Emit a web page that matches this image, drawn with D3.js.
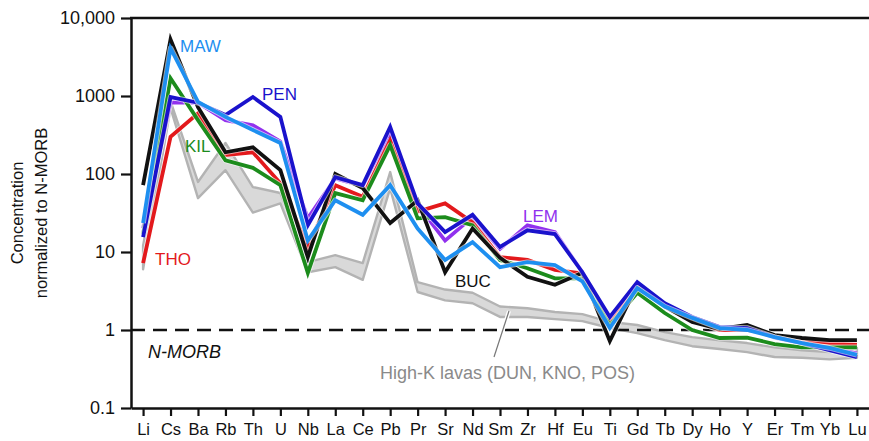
<!DOCTYPE html>
<html>
<head>
<meta charset="utf-8">
<script src="https://cdn.jsdelivr.net/npm/d3@7"></script>
<style>
  html, body { margin: 0; padding: 0; background: #fff; }
  svg { display: block; font-family: "Liberation Sans", Arial, Helvetica, sans-serif; }
</style>
</head>
<body>
<svg id="chart" width="869" height="441"></svg>
<script>
// Trace elements on the x axis, N-MORB normalized concentrations per locality
const elements = ["Li","Cs","Ba","Rb","Th","U","Nb","La","Ce","Pb","Pr","Sr","Nd","Sm","Zr","Hf","Eu","Ti","Gd","Tb","Dy","Ho","Y","Er","Tm","Yb","Lu"];

const LEM = [20, 830, 820, 490, 420, 260, 27, 88, 70, 335, 40, 14, 28, 11, 22, 18, 5.5, 1.35, 3.9, 2.1, 1.45, 1.05, 1.05, 0.8, 0.68, 0.58, 0.5];
const THO = [7.2, 300, 600, 175, 190, 76, 11.6, 72, 51, 270, 33, 42, 24, 8.6, 7.9, 5.9, 5.3, 1.2, 3.6, 2.0, 1.35, 1.0, 1.0, 0.85, 0.75, 0.68, 0.65];
const KIL = [17, 1690, 490, 150, 120, 72, 5.4, 57, 46, 235, 27, 28, 22, 7.9, 6.2, 4.6, 4.6, 1.15, 3.0, 1.65, 1.0, 0.79, 0.8, 0.66, 0.6, 0.6, 0.6];
const BUC = [72, 5300, 720, 190, 220, 112, 8.6, 100, 66, 23.5, 46, 5.5, 20, 8.4, 4.8, 3.8, 5.4, 0.72, 3.8, 2.0, 1.27, 1.03, 1.16, 0.86, 0.79, 0.74, 0.74];
const PEN = [15.5, 970, 820, 570, 970, 540, 22, 91, 72, 400, 42, 18, 30, 11.6, 19, 17, 5.5, 1.47, 4.1, 2.2, 1.47, 1.09, 1.06, 0.81, 0.68, 0.55, 0.45];
const MAW = [23.5, 4100, 840, 540, 366, 250, 14, 46, 30, 72, 20, 7.9, 13.4, 6.4, 7.4, 6.8, 4.2, 1.06, 3.45, 2.0, 1.43, 1.06, 1.0, 0.81, 0.68, 0.59, 0.48];

// High-K lavas (DUN, KNO, POS) envelope
const highKUpper = [12, 850, 79, 250, 68, 57, 7.4, 9.1, 7.2, 106, 4.1, 3.3, 3.0, 2.0, 1.9, 1.7, 1.6, 1.27, 1.16, 0.94, 0.81, 0.74, 0.68, 0.6, 0.55, 0.52, 0.59];
const highKLower = [6, 700, 49, 112, 32, 42, 5.5, 6.4, 4.4, 66, 3.07, 2.4, 2.2, 1.47, 1.47, 1.38, 1.3, 1.06, 0.91, 0.74, 0.62, 0.57, 0.52, 0.45, 0.44, 0.42, 0.44];

const yTicks = [0.1, 1, 10, 100, 1000, 10000];
const yTickLabels = ["0.1", "1", "10", "100", "1000", "10,000"];

const seriesDefs = [
  { name: "LEM", values: LEM, color: "#9131ee" },
  { name: "THO", values: THO, color: "#e3191c" },
  { name: "KIL", values: KIL, color: "#1c8c1c" },
  { name: "BUC", values: BUC, color: "#111111" },
  { name: "PEN", values: PEN, color: "#1a12cc" },
  { name: "MAW", values: MAW, color: "#1e8ff0" }
];

const svg = d3.select("#chart");
const plotLeft = 131, plotRight = 869, plotTop = 18, plotBottom = 408;

const x = d3.scalePoint().domain(elements).range([plotLeft, plotRight]).padding(0.44);
const y = d3.scaleLog().domain([0.1, 10000]).range([plotBottom, plotTop]);

// High-K envelope band
const band = d3.area()
  .x((d, i) => x(elements[i]))
  .y0(d => y(d[1]))
  .y1(d => y(d[0]));
const bandData = highKUpper.map((u, i) => [u, highKLower[i]]);
svg.append("path")
  .datum(bandData)
  .attr("d", band)
  .attr("fill", "#d9d9d9")
  .attr("stroke", "#b3b3b3")
  .attr("stroke-width", 2.4)
  .attr("stroke-linejoin", "round");

// N-MORB reference line at 1
svg.append("line")
  .attr("x1", plotLeft).attr("x2", plotRight)
  .attr("y1", y(1)).attr("y2", y(1))
  .attr("stroke", "#111").attr("stroke-width", 2.5)
  .attr("stroke-dasharray", "14,8");

// Leader for the High-K label
svg.append("line")
  .attr("x1", 509).attr("y1", 311).attr("x2", 494).attr("y2", 357)
  .attr("stroke", "#fff").attr("stroke-width", 4);
svg.append("line")
  .attr("x1", 509).attr("y1", 311).attr("x2", 494).attr("y2", 357)
  .attr("stroke", "#777").attr("stroke-width", 1.2);

// Locality patterns
const line = d3.line()
  .x((d, i) => x(elements[i]))
  .y(d => y(d));

seriesDefs.forEach(s => {
  svg.append("path")
    .datum(s.values)
    .attr("d", line)
    .attr("fill", "none")
    .attr("stroke", "#fff")
    .attr("stroke-width", 5.6)
    .attr("stroke-linejoin", "round")
    .attr("stroke-opacity", 0.6);
  svg.append("path")
    .datum(s.values)
    .attr("d", line)
    .attr("fill", "none")
    .attr("stroke", s.color)
    .attr("stroke-width", 3.8)
    .attr("stroke-linejoin", "miter");
});

// Axes
const yAxis = d3.axisLeft(y)
  .tickValues(yTicks)
  .tickFormat((d, i) => yTickLabels[i])
  .tickSize(10)
  .tickSizeOuter(0)
  .tickPadding(6);
const gy = svg.append("g").attr("transform", `translate(${plotLeft},0)`).call(yAxis);
gy.select(".domain").attr("stroke", "#111").attr("stroke-width", 2.5);
gy.selectAll(".tick line").attr("stroke", "#111").attr("stroke-width", 2.2);
gy.selectAll(".tick text").attr("font-size", 18).attr("fill", "#111")
  .attr("font-family", "'Liberation Sans', Arial, sans-serif");

const xAxis = d3.axisBottom(x).tickSize(8).tickSizeOuter(0).tickPadding(7);
const gx = svg.append("g").attr("transform", `translate(0,${plotBottom})`).call(xAxis);
gx.select(".domain").attr("stroke", "#111").attr("stroke-width", 2.5);
gx.selectAll(".tick line").attr("stroke", "#111").attr("stroke-width", 2.2);
gx.selectAll(".tick text").attr("font-size", 16.5).attr("fill", "#111")
  .attr("font-family", "'Liberation Sans', Arial, sans-serif");

// Top frame line
svg.append("line")
  .attr("x1", plotLeft - 1).attr("x2", plotRight)
  .attr("y1", plotTop).attr("y2", plotTop)
  .attr("stroke", "#111").attr("stroke-width", 2.5);

// Y axis title
const yTitle = svg.append("text")
  .attr("transform", "translate(26,213) rotate(-90)")
  .attr("text-anchor", "middle")
  .attr("font-size", 16.5)
  .attr("fill", "#111");
yTitle.append("tspan").attr("x", 0).attr("dy", "-0.2em").text("Concentration");
yTitle.append("tspan").attr("x", 0).attr("dy", "1.5em").text("normalized to N-MORB");

// Series labels
const labels = [
  { text: "MAW", x: 180, y: 52, color: "#1e8ff0" },
  { text: "PEN", x: 262, y: 100, color: "#1a12cc" },
  { text: "KIL", x: 185, y: 152, color: "#1c8c1c" },
  { text: "THO", x: 155, y: 265, color: "#e3191c" },
  { text: "LEM", x: 523, y: 222, color: "#9131ee" },
  { text: "BUC", x: 455, y: 287, color: "#111111" }
];
labels.forEach(l => {
  svg.append("text")
    .attr("x", l.x).attr("y", l.y)
    .attr("font-size", 17)
    .attr("fill", l.color)
    .text(l.text);
});

svg.append("text")
  .attr("x", 148).attr("y", 358)
  .attr("font-size", 18)
  .attr("font-style", "italic")
  .attr("fill", "#111")
  .text("N-MORB");

svg.append("text")
  .attr("x", 380).attr("y", 379)
  .attr("font-size", 18)
  .attr("fill", "#8a8a8a")
  .text("High-K lavas (DUN, KNO, POS)");
</script>
</body>
</html>
